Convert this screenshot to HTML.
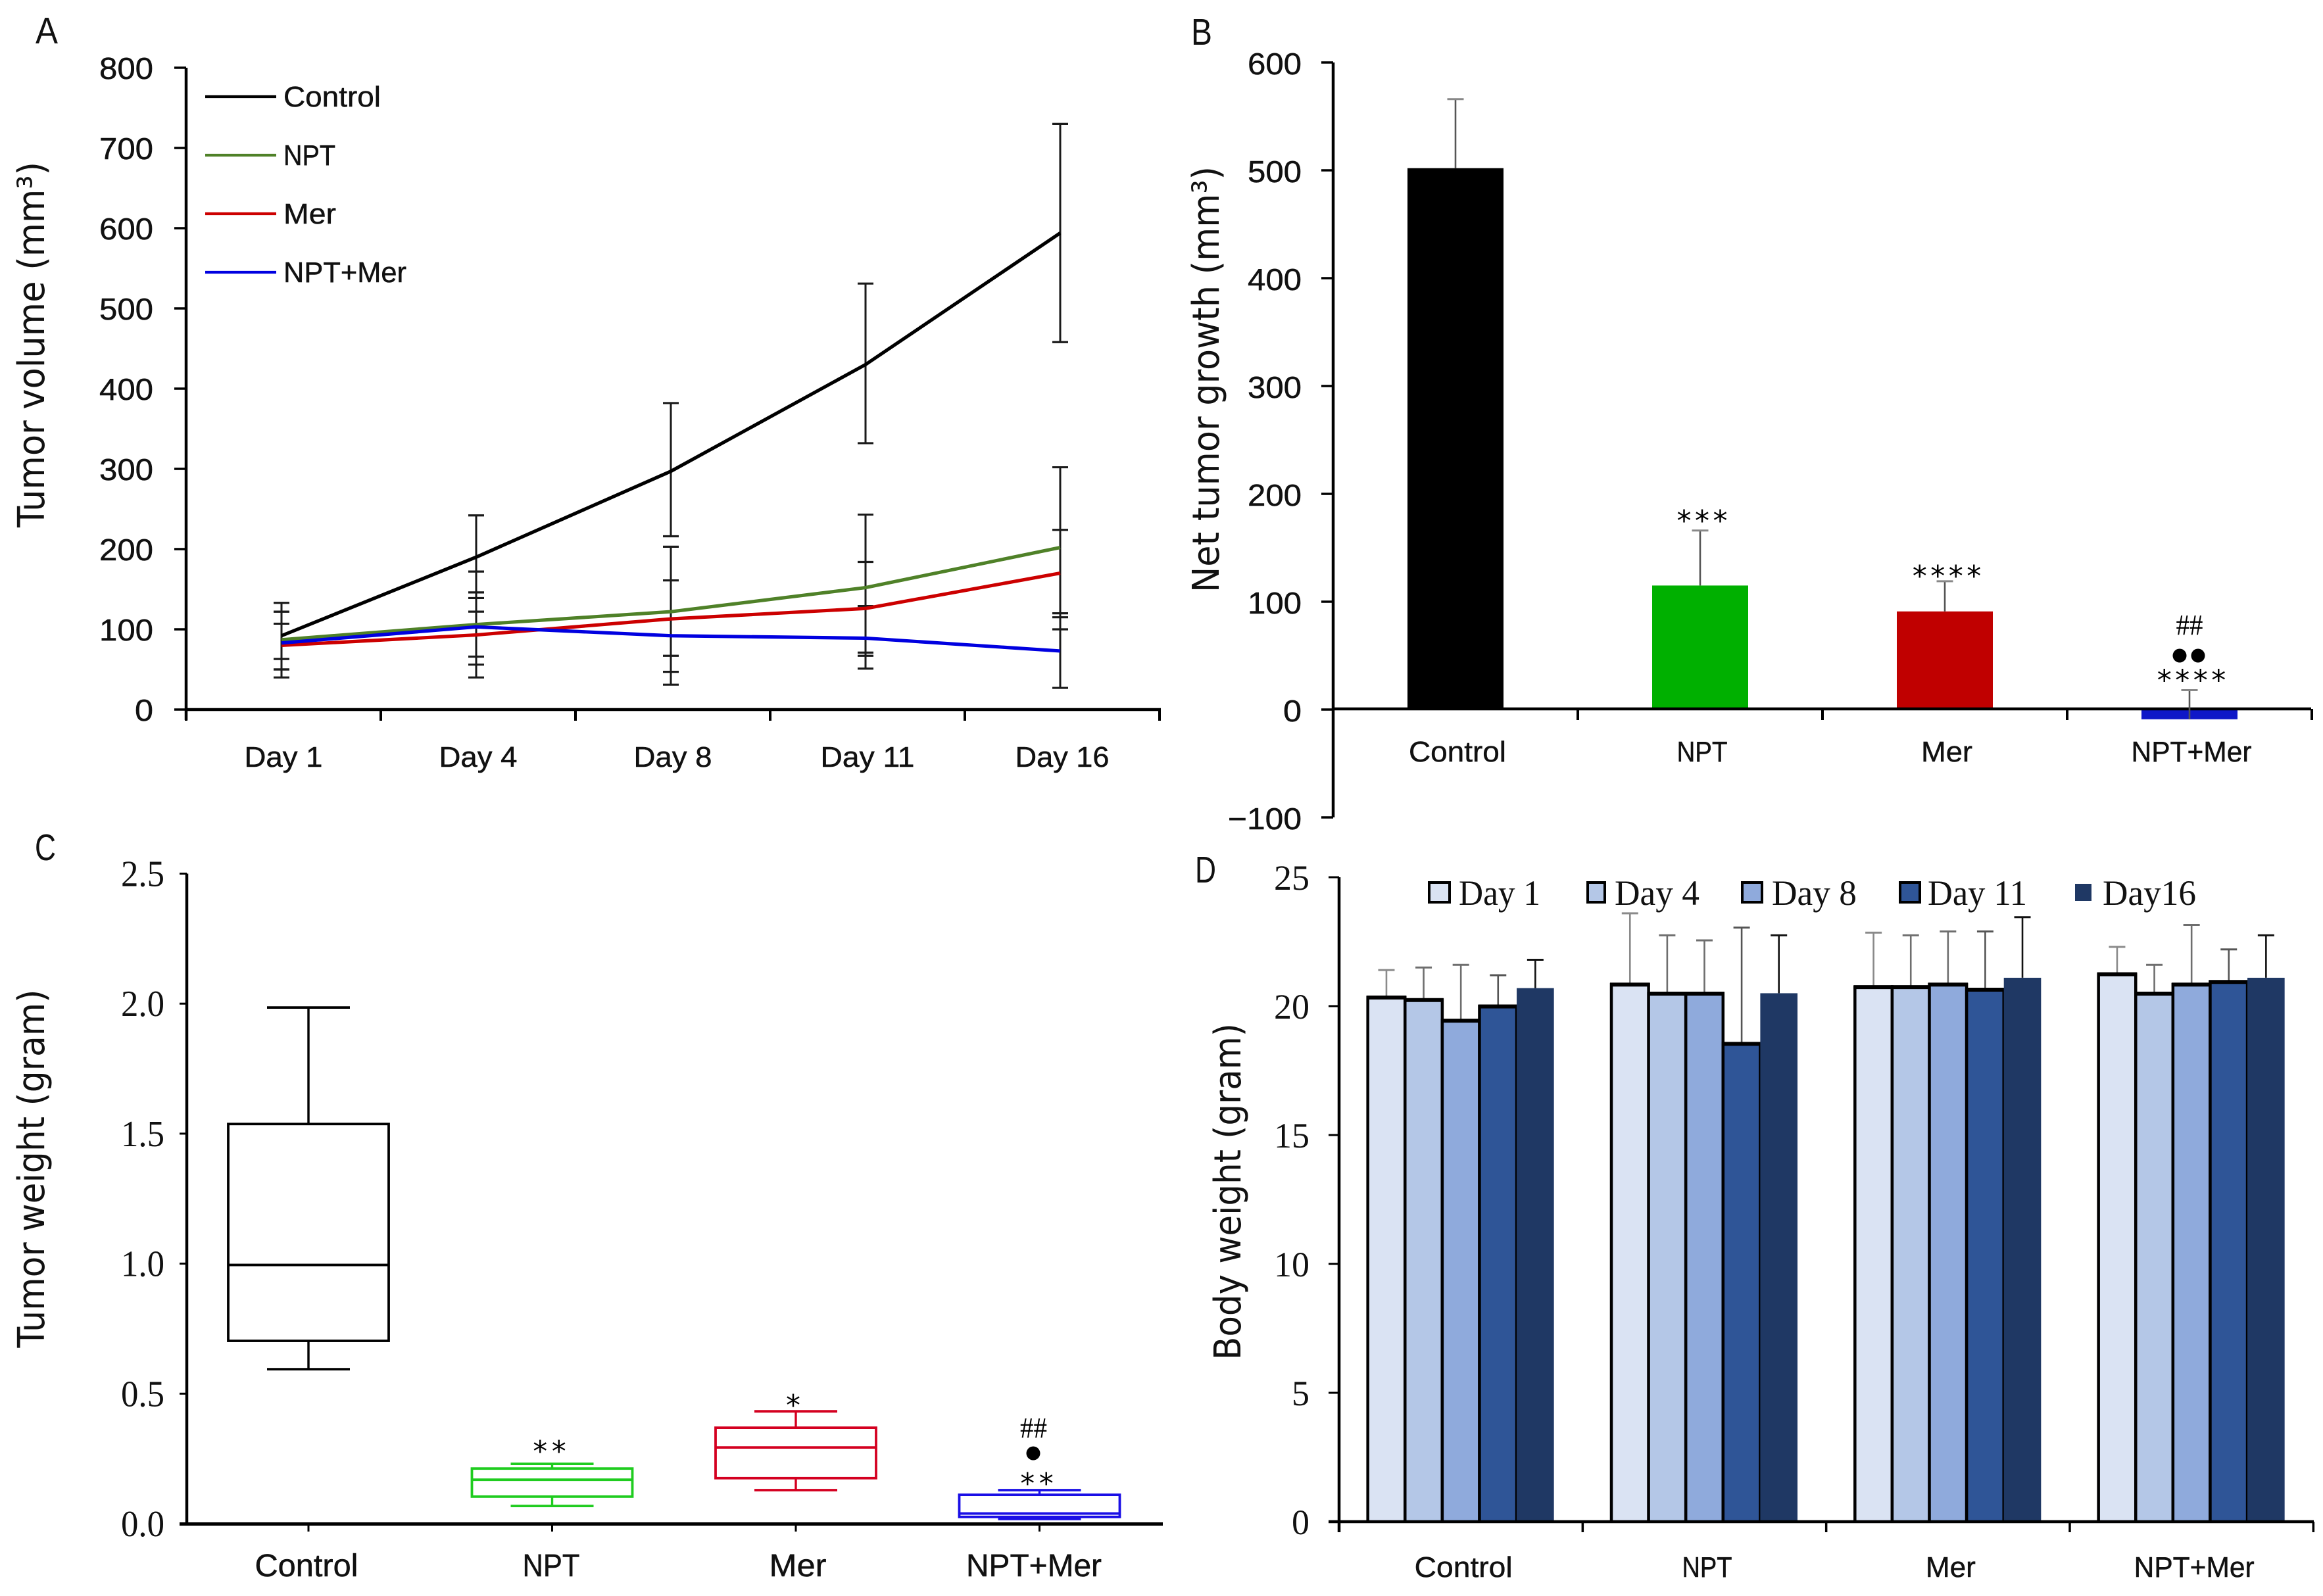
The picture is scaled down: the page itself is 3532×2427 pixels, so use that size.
<!DOCTYPE html>
<html lang="en">
<head>
<meta charset="utf-8">
<title>Tumor growth panels</title>
<style>
html,body{margin:0;padding:0;background:#fff;width:3532px;height:2427px;overflow:hidden}
svg{display:block}
text{fill:#111}
.sans{font-family:"Liberation Sans",sans-serif;stroke:#111;stroke-width:.5px}
.serif{font-family:"Liberation Serif",serif}
.title{font-family:"DejaVu Sans",sans-serif;font-size:56px}
.panel{font-family:"Liberation Sans",sans-serif;font-size:57px}
.star{font-family:"DejaVu Sans",sans-serif;font-size:44px;fill:#000}
.hash{font-family:"Liberation Serif",serif;font-size:44px;fill:#000}
</style>
</head>
<body>
<svg id="figure" xmlns="http://www.w3.org/2000/svg" width="3532" height="2427" viewBox="0 0 3532 2427">
<rect width="3532" height="2427" fill="#fff"/>
<text class="panel" x="54" y="66" textLength="34" lengthAdjust="spacingAndGlyphs">A</text>
<text class="panel" x="1811" y="68" textLength="32" lengthAdjust="spacingAndGlyphs">B</text>
<text class="panel" x="53" y="1308" textLength="32" lengthAdjust="spacingAndGlyphs">C</text>
<text class="panel" x="1817" y="1342" textLength="32" lengthAdjust="spacingAndGlyphs">D</text>
<text class="title" transform="translate(67,524) rotate(-90)" text-anchor="middle" textLength="556" lengthAdjust="spacingAndGlyphs">Tumor volume (mm³)</text>
<text class="title" transform="translate(1853,577) rotate(-90)" text-anchor="middle" textLength="648" lengthAdjust="spacingAndGlyphs">Net tumor growth (mm³)</text>
<text class="title" transform="translate(67,1777) rotate(-90)" text-anchor="middle" textLength="545" lengthAdjust="spacingAndGlyphs">Tumor weight (gram)</text>
<text class="title" transform="translate(1886,1812) rotate(-90)" text-anchor="middle" textLength="512" lengthAdjust="spacingAndGlyphs">Body weight (gram)</text>
<g id="chart-a"></g>
<g id="chart-b"></g>
<g id="chart-c"></g>
<g id="chart-d"></g>
</svg>
<script>
// ---- Panel A data ----
const daysA = ['Day 1', 'Day 4', 'Day 8', 'Day 11', 'Day 16'];
const ticksA = [0, 100, 200, 300, 400, 500, 600, 700, 800];
const seriesNamesA = ['Control', 'NPT', 'Mer', 'NPT+Mer'];
const controlA = [92, 190, 297, 430, 594];
const nptA = [87, 106, 122, 152, 202];
const merA = [80, 93, 113, 126, 170];
const comboA = [83, 103, 92, 89, 73];
const controlHiA = [133, 242, 382, 531, 730];
const controlLoA = [50, 139, 216, 332, 458];
const nptHiA = [122, 172, 203, 243, 302];
const nptLoA = [50, 40, 47, 67, 100];
const merHiA = [122, 122, 161, 184, 224];
const merLoA = [40, 66, 67, 71, 115];
const comboHiA = [107, 146, 161, 129, 120];
const comboLoA = [63, 56, 31, 51, 27];

// ---- Panel B data ----
const groupsB = ['Control', 'NPT', 'Mer', 'NPT+Mer'];
const ticksB = [-100, 0, 100, 200, 300, 400, 500, 600];
const valuesB = [502, 115, 91, -9];
const errTopB = [566, 166, 119, 18];
const starsB = ['', '***', '****', '****'];

// ---- Panel C data ----
const groupsC = ['Control', 'NPT', 'Mer', 'NPT+Mer'];
const ticksC = ['0.0', '0.5', '1.0', '1.5', '2.0', '2.5'];
const whiskerHiC = [1.985, 0.23, 0.432, 0.129];
const q3C = [1.537, 0.212, 0.369, 0.111];
const medianC = [0.995, 0.169, 0.293, 0.039];
const q1C = [0.703, 0.104, 0.175, 0.026];
const whiskerLoC = [0.594, 0.068, 0.129, 0.018];
const starsC = ['', '**', '*', '**'];

// ---- Panel D data ----
const groupsD = ['Control', 'NPT', 'Mer', 'NPT+Mer'];
const ticksD = [0, 5, 10, 15, 20, 25];
const day1D = [20.4, 20.9, 20.8, 21.3];
const day4D = [20.3, 20.55, 20.8, 20.55];
const day8D = [19.5, 20.55, 20.9, 20.9];
const day11D = [20.05, 18.6, 20.7, 21.0];
const day16D = [20.7, 20.5, 21.1, 21.1];
const day1ErrD = [21.4, 23.6, 22.85, 22.3];
const day4ErrD = [21.5, 22.75, 22.75, 21.6];
const day8ErrD = [21.6, 22.55, 22.9, 23.15];
const day11ErrD = [21.2, 23.05, 22.9, 22.2];
const day16ErrD = [21.8, 22.75, 23.45, 22.75];
const legendD = ['Day 1', 'Day 4', 'Day 8', 'Day 11', 'Day16'];

// ---- helpers ----
const NS = 'http://www.w3.org/2000/svg';
function make(parent, tag, attrs) {
  const el = document.createElementNS(NS, tag);
  for (const k in attrs) el.setAttribute(k, attrs[k]);
  parent.appendChild(el);
  return el;
}
function line(parent, x1, y1, x2, y2, color, width) {
  return make(parent, 'line', { x1: x1, y1: y1, x2: x2, y2: y2, stroke: color, 'stroke-width': width });
}
function label(parent, x, y, str, cls, size, anchor, len) {
  const el = make(parent, 'text', { x: x, y: y, class: cls, 'font-size': size, 'text-anchor': anchor });
  if (len) {
    el.setAttribute('textLength', len);
    el.setAttribute('lengthAdjust', 'spacingAndGlyphs');
  }
  el.textContent = str;
  return el;
}
function markerStars(parent, cx, cy, str, pitch) {
  for (let i = 0; i < str.length; i++) {
    const el = label(parent, cx + (i - (str.length - 1) / 2) * pitch, cy + 23, '*', 'star', 44, 'middle');
    
    
  }
}
function markerHash(parent, cx, cy) {
  const el = label(parent, cx, cy + 15, '##', 'hash', 44, 'middle', 41);
  
  
}
function markerDot(parent, cx, cy) {
  const el = make(parent, 'circle', { cx: cx, cy: cy, r: 10.5, fill: '#000' });
  
  
}

// ---- Panel A ----
(function () {
  const g = document.getElementById('chart-a');
  const yA = v => 1079 - v * 1.22;
  const xA = i => 428 + i * 296;
  const colors = ['#000000', '#4f8128', '#cc0000', '#0000e0'];
  const means = [controlA, nptA, merA, comboA];
  const his = [controlHiA, nptHiA, merHiA, comboHiA];
  const los = [controlLoA, nptLoA, merLoA, comboLoA];
  const yAxis = line(g, 283, yA(800), 283, 1095, '#000', 4.5);
  
  
  const xAxis = line(g, 281, 1079, 1765, 1079, '#000', 4.5);
  
  
  ticksA.forEach(t => {
    const tick = line(g, 265, yA(t), 283, yA(t), '#000', 3.5);
    
    
    const tl = label(g, 233, yA(t) + 17, String(t), 'sans', 46, 'end', t === 0 ? 28 : 82);
    
    
  });
  for (let i = 0; i <= daysA.length; i++) {
    const tick = line(g, 283 + i * 296, 1079, 283 + i * 296, 1096, '#000', 4);
    
    
  }
  daysA.forEach((d, i) => {
    const tl = label(g, xA(i) + 3, 1166, d, 'sans', 44, 'middle', d.length > 5 ? 143 : 119);
    
    
  });
  means.forEach((arr, s) => {
    arr.forEach((v, i) => {
      const bar = line(g, xA(i), yA(his[s][i]), xA(i), yA(los[s][i]), '#1a1a1a', 3);
      
      
      const capHi = line(g, xA(i) - 12, yA(his[s][i]), xA(i) + 12, yA(his[s][i]), '#1a1a1a', 3.2);
      
      
      const capLo = line(g, xA(i) - 12, yA(los[s][i]), xA(i) + 12, yA(los[s][i]), '#1a1a1a', 3.2);
      
      
    });
  });
  means.forEach((arr, s) => {
    const path = make(g, 'polyline', {
      points: arr.map((v, i) => xA(i) + ',' + yA(v)).join(' '),
      fill: 'none', stroke: colors[s], 'stroke-width': 5.2, 'stroke-linejoin': 'round'
    });
    
    
  });
  const legendW = [148, 79, 80, 187];
  seriesNamesA.forEach((n, s) => {
    const ly = 147 + s * 89;
    const key = line(g, 312, ly, 420, ly, colors[s], 4.2);
    
    
    const t = label(g, 431, ly + 15, n, 'sans', 44, 'start', legendW[s]);
    
    
  });
})();

// ---- Panel B ----
(function () {
  const g = document.getElementById('chart-b');
  const yB = v => 1079 - v * 1.64;
  const xB = i => 2027 + (i + 0.5) * 372;
  const colors = ['#000000', '#00b000', '#c00000', '#0f18c8'];
  const widths = [148, 77, 78, 183];
  const starGap = [0, 23, 16, 23];
  valuesB.forEach((v, i) => {
    const top = Math.min(yB(v), yB(0));
    const bar = make(g, 'rect', { x: xB(i) - 73, y: top, width: 146, height: Math.abs(yB(v) - yB(0)), fill: colors[i] });
    
    
  });
  const yAxis = line(g, 2027, yB(600), 2027, yB(-100), '#000', 4.5);
  
  
  const xAxis = line(g, 2027, 1078, 3514, 1078, '#000', 4.5);
  
  
  ticksB.forEach(t => {
    const tick = line(g, 2009, yB(t), 2027, yB(t), '#000', 3.5);
    
    
    const s = t < 0 ? '\u2212' + (-t) : String(t);
    const tl = label(g, 1979, yB(t) + 18, s, 'sans', 46, 'end', t < 0 ? 112 : (t === 0 ? 28 : 82));
    
    
  });
  groupsB.forEach((n, i) => {
    const tx = 2027 + (i + 1) * 372;
    const tick = line(g, tx, 1078, tx, 1095, '#000', 4);
    
    
    const tl = label(g, xB(i) + 3, 1158, n, 'sans', 44, 'middle', widths[i]);
    
    
    const stem = line(g, xB(i), yB(errTopB[i]), xB(i), yB(valuesB[i]), '#555', 2.6);
    
    
    const cap = line(g, xB(i) - 12.5, yB(errTopB[i]), xB(i) + 12.5, yB(errTopB[i]), '#888', 3);
    
    
    if (starsB[i]) markerStars(g, xB(i) + 3, yB(errTopB[i]) - starGap[i], starsB[i], 27.5);
  });
  markerDot(g, 3314, 997);
  markerDot(g, 3342, 997);
  markerHash(g, 3329, 950);
})();

// ---- Panel C ----
(function () {
  const g = document.getElementById('chart-c');
  const yC = v => 2317 - v * 395.4;
  const xC = i => 469 + i * 370.5;
  const colors = ['#000000', '#1fcc1f', '#d40020', '#1a0fe6'];
  const widths = [157, 87, 87, 206];
  const labelX = [466, 838, 1213, 1572];
  const starGap = [0, 27, 17, 18];
  const yAxis = line(g, 284, yC(2.5), 284, 2317, '#000', 4.5);
  
  
  const xAxis = line(g, 273, 2317.5, 1768, 2317.5, '#000', 5);
  
  
  ticksC.forEach(t => {
    const v = parseFloat(t);
    const tick = line(g, 273, yC(v), 284, yC(v), '#000', 3);
    
    
    const tl = label(g, 250, yC(v) + 19, t, 'serif', 56, 'end', 66);
    
    
  });
  groupsC.forEach((n, i) => {
    const cx = xC(i);
    const c = colors[i];
    const tick = line(g, cx, 2317, cx, 2329, '#000', 3);
    
    
    const tl = label(g, labelX[i], 2397, n, 'sans', 48, 'middle', widths[i]);
    
    
    const box = make(g, 'rect', { x: cx - 122, y: yC(q3C[i]), width: 244, height: yC(q1C[i]) - yC(q3C[i]), fill: 'none', stroke: c, 'stroke-width': 3.8 });
    
    
    const med = line(g, cx - 122, yC(medianC[i]), cx + 122, yC(medianC[i]), c, 3.8);
    
    
    const up = line(g, cx, yC(q3C[i]), cx, yC(whiskerHiC[i]), c, 3.4);
    
    
    const down = line(g, cx, yC(q1C[i]), cx, yC(whiskerLoC[i]), c, 3.4);
    
    
    const capHi = line(g, cx - 63, yC(whiskerHiC[i]), cx + 63, yC(whiskerHiC[i]), c, 3.8);
    
    
    const capLo = line(g, cx - 63, yC(whiskerLoC[i]), cx + 63, yC(whiskerLoC[i]), c, 3.8);
    
    
    if (starsC[i]) markerStars(g, cx - 4, yC(whiskerHiC[i]) - starGap[i], starsC[i], 28.5);
  });
  markerDot(g, 1571, 2210);
  markerHash(g, 1571.5, 2171);
})();

// ---- Panel D ----
(function () {
  const g = document.getElementById('chart-d');
  const yD = v => 2314 - v * 39.2;
  const barW = 56.6;
  const xD = (i, s) => 2036 + (i + 0.5) * 370.33 + (s - 2.5) * barW;
  const fills = ['#dae3f3', '#b4c7e7', '#8faadc', '#2f5597', '#1f3864'];
  const errColors = ['#8a8a8a', '#6e6e6e', '#6e6e6e', '#555555', '#111111'];
  const series = [day1D, day4D, day8D, day11D, day16D];
  const errs = [day1ErrD, day4ErrD, day8ErrD, day11ErrD, day16ErrD];
  series.forEach((arr, s) => {
    arr.forEach((v, i) => {
      const stem = line(g, xD(i, s) + barW / 2, yD(errs[s][i]), xD(i, s) + barW / 2, yD(v), errColors[s], 2.6);
      
      
      const cap = line(g, xD(i, s) + barW / 2 - 12.5, yD(errs[s][i]), xD(i, s) + barW / 2 + 12.5, yD(errs[s][i]), errColors[s], 3);
      
      
    });
  });
  series.forEach((arr, s) => {
    arr.forEach((v, i) => {
      const x = xD(i, s);
      const bar = make(g, 'rect', { x: x, y: yD(v), width: barW, height: 2314 - yD(v), fill: fills[s] });
      
      
      if (s < 4) {
        const top = line(g, x - 2, yD(v) + 2.5, x + barW + 2, yD(v) + 2.5, '#000', 6);
        
        
        const left = line(g, x, yD(v), x, 2314, '#000', 4.5);
        
        
        const right = line(g, x + barW, yD(v), x + barW, 2314, '#000', 4.5);
        
        
      }
    });
  });
  const yAxis = line(g, 2036, yD(25), 2036, 2330, '#000', 4.5);
  
  
  const xAxis = line(g, 2020, 2314, 3518, 2314, '#000', 4.5);
  
  
  ticksD.forEach(t => {
    const tick = line(g, 2020, yD(t), 2036, yD(t), '#000', 3);
    
    
    const tl = label(g, 1991, yD(t) + 19, String(t), 'serif', 54, 'end', t < 10 ? 27 : 54);
    
    
  });
  const widths = [149, 76, 76, 183];
  groupsD.forEach((n, i) => {
    const tx = 2036 + (i + 1) * 370.33;
    const tick = line(g, tx, 2314, tx, 2330, '#000', 3.5);
    
    
    const tl = label(g, 2036 + (i + 0.5) * 370.33 + 4, 2398, n, 'sans', 44, 'middle', widths[i]);
    
    
  });
  const swatchX = [2173, 2414, 2649, 2889, 3155];
  const swatchW = [31, 26, 30, 30, 25];
  const textX = [2218, 2455, 2694, 2931, 3197];
  const textW = [124, 129, 129, 151, 142];
  legendD.forEach((n, s) => {
    const sw = make(g, 'rect', { x: swatchX[s], y: s < 4 ? 1342 : 1344, width: swatchW[s], height: s < 4 ? 30 : 26, fill: fills[s], stroke: s < 4 ? '#000' : 'none', 'stroke-width': 4 });
    
    
    const t = label(g, textX[s], 1376, n, 'serif', 54, 'start', textW[s]);
    
    
  });
})();
</script>
</body>
</html>
